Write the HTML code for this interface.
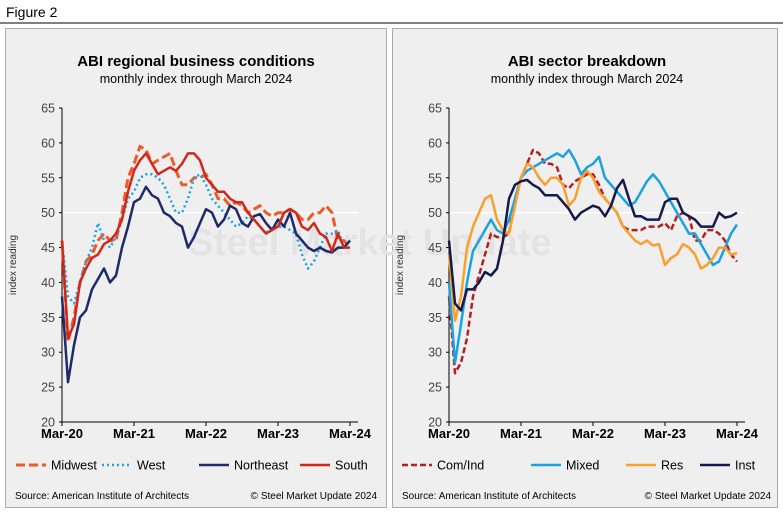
<!DOCTYPE html>
<html><head><meta charset="utf-8"><style>
body{margin:0;background:#fff;font-family:"Liberation Sans",sans-serif;}
svg text{font-family:"Liberation Sans",sans-serif;}
</style></head><body>
<svg id="c" width="783" height="511" xmlns="http://www.w3.org/2000/svg">
<rect width="783" height="511" fill="#fff"/>
<text x="6" y="17" font-size="14" fill="#000">Figure  2</text>
<line x1="0" y1="23" x2="783" y2="23" stroke="#000" stroke-width="1"/>
<rect x="5.5" y="28.5" width="381" height="479" fill="#efefef" stroke="#aaa"/>
<rect x="392.5" y="28.5" width="385" height="479" fill="#efefef" stroke="#aaa"/>
<text x="370" y="255" font-size="38" font-weight="bold" fill="#e3e3e3" text-anchor="middle">Steel Market Update</text>
<g id="L"></g><g id="R"></g>
</svg>
<script>
const months = ['Mar-20','Mar-21','Mar-22','Mar-23','Mar-24'];
const yTicks = [20,25,30,35,40,45,50,55,60,65];
const midwest = [46,31.5,35,40,43,44,46,47,46,46,50,55,57,59.5,59,57,57.5,58,58.5,56,54,54,55,55,55.5,54,52,52,51,51.5,51,50,50.5,51,50,49.5,50,50,50.5,50,49,49,50,50,51,50,46,46,45];
const west = [46,38,37,40,43,45,48.5,46,45,46.5,49,52,53,55,55.5,55.5,55,54,52,50,50,52,55,55.5,54,52,51,50,49,48,48.5,49.5,49,48,47,48,48,48,47.5,47,44,42,43,45,47,47,47.5,45,46];
const northeast = [38,25.7,31,35,36,39,40.5,42,40,41,45,48,51.5,52,53.7,52.5,52,50,49.5,48.5,48,45,46.5,48.5,50.5,50,48,49,51,50.5,48.5,48,49.5,49.8,48.5,47.5,49,48,50,47,46,45,44.5,45,44.5,44.3,45,45,46];
const south = [46,32,34,40,42,43.5,44,45.5,46,47,49,53,56,57.5,58.5,57,55.5,56,56.5,56,57,58.5,58.5,57.5,55,54,53,53,52,51.5,51.5,50,49,48,47,47.5,48,50,50.5,50,48,47.5,48.5,47,46.5,44.5,47,45,45];
const comind = [38,27,28.5,32,38,41,44,47,46.5,46.5,47,52,55,57,59,58.5,57,57,56.5,54,53.5,54.5,55,55.5,55.5,54,52,51,50,48,47.5,47.5,47.5,48,48,48,48.5,47.5,49.5,50,49.5,46,46,47.5,47.5,47,46,44,43];
const mixed = [40,28.5,34,40,44.5,46,47.5,49,47.5,47,49,52,55,56,56.5,57,57.5,58,58.5,58,59,57.5,55.5,56.5,57,58,55,54,53,52,51,51.5,53,54.5,55.5,54.5,53,51.5,50,48.5,47,47,45.5,44,42.5,43,45,47,48.3];
const res = [44,34.5,38,45,48,50,52,52.5,49,47.5,47,51,55,57,56.5,55,54,55,55,54,51,52,55,56,55,53,52,51,50,48,47,46,45.5,46,45.3,45.5,42.5,43.5,44,45.5,45,44,42,42.5,43.5,45,45,44,44.2];
const inst = [46,37,36,39,39,40,41.5,41,42,46,52,54,54.5,54.7,54,53.5,52.5,52.5,52.5,51.5,50.5,49,50,50.5,51,50.7,49.5,51,53.5,54.7,52,49.5,49.5,49,49,49,51.5,52,52,50,49.5,49,48,48,48,50,49.3,49.5,50];

const NS='http://www.w3.org/2000/svg';
function mk(p,tag,a,txt){const e=document.createElementNS(NS,tag);for(const k in a)e.setAttribute(k,a[k]);if(txt!=null)e.textContent=txt;p.appendChild(e);return e;}
const Y0=422,Y1=108;
function yS(v){return Y0-(v-20)/45*(Y0-Y1);}

function panel(g,x0,cx,title,sub,series,legendX,srcRight){
  const xS=i=>x0+i*6;
  let t=mk(g,'text',{x:cx,y:66,'font-size':15,'font-weight':'bold','text-anchor':'middle'},title);
  
  
  t=mk(g,'text',{x:cx,y:83,'font-size':12.5,'text-anchor':'middle'},sub);
  
  
  yTicks.forEach(v=>{
    const l=mk(g,'text',{x:x0-7,y:yS(v)+4.5,'font-size':12.5,'text-anchor':'end',fill:'#444'},v);
    
    
    mk(g,'line',{x1:x0-3,x2:x0,y1:yS(v),y2:yS(v),stroke:'#000'});
  });
  t=mk(g,'text',{x:0,y:0,'font-size':10,fill:'#333','text-anchor':'middle',transform:`translate(${x0-46},${yS(42.5)}) rotate(-90)`},'index reading');
  
  
  mk(g,'line',{x1:x0,x2:x0+296,y1:yS(50),y2:yS(50),stroke:'#fff','stroke-width':1.5});
  mk(g,'line',{x1:x0,x2:x0,y1:Y1,y2:Y0,stroke:'#000'});
  mk(g,'line',{x1:x0,x2:x0+296,y1:Y0,y2:Y0,stroke:'#000'});
  months.forEach((m,k)=>{
    const x=xS(k*12);
    mk(g,'line',{x1:x,x2:x,y1:Y0,y2:Y0+4,stroke:'#000'});
    const l=mk(g,'text',{x:x,y:Y0+16,'font-size':13,'font-weight':'bold','text-anchor':'middle'},m);
    
    
  });
  series.forEach(s=>{
    const d=s.data.map((v,i)=>(i?'L':'M')+xS(i).toFixed(1)+','+yS(v).toFixed(1)).join(' ');
    const p=mk(g,'path',{d:d,fill:'none',stroke:s.color,'stroke-width':s.w||2.5,'stroke-dasharray':s.dash||'','stroke-linejoin':'round'});
    
    
  });
  series.forEach((s,k)=>{
    const lx=legendX[k];
    const ln=mk(g,'line',{x1:lx,x2:lx+30,y1:465,y2:465,stroke:s.color,'stroke-width':s.w||2.5,'stroke-dasharray':s.dash||''});
    
    
    const l=mk(g,'text',{x:lx+35,y:469.5,'font-size':12.5},s.name);
    
    
  });
  t=mk(g,'text',{x:x0-47,y:499,'font-size':10},'Source: American Institute of Architects');
  
  
  t=mk(g,'text',{x:srcRight,y:499,'font-size':10,'text-anchor':'end'},'© Steel Market Update 2024');
  
  
}
panel(document.getElementById('L'),62,196,'ABI regional business conditions','monthly index through March 2024',[
 {key:'midwest',name:'Midwest',data:midwest,color:'#f05a28',dash:'9 4',w:3},
 {key:'west',name:'West',data:west,color:'#1aa3e0',dash:'2 3',w:2.5},
 {key:'northeast',name:'Northeast',data:northeast,color:'#1f2a6b',w:2.5},
 {key:'south',name:'South',data:south,color:'#d0291c',w:2.5}],[16,102,199,300],377);
panel(document.getElementById('R'),449,587,'ABI sector breakdown','monthly index through March 2024',[
 {key:'comind',name:'Com/Ind',data:comind,color:'#b51f1f',dash:'6 3',w:2.5},
 {key:'mixed',name:'Mixed',data:mixed,color:'#1aa3e0',w:2.5},
 {key:'res',name:'Res',data:res,color:'#f7a030',w:2.5},
 {key:'inst',name:'Inst',data:inst,color:'#141a4a',w:2.5}],[402,531,626,700],771);
</script>
</body></html>
